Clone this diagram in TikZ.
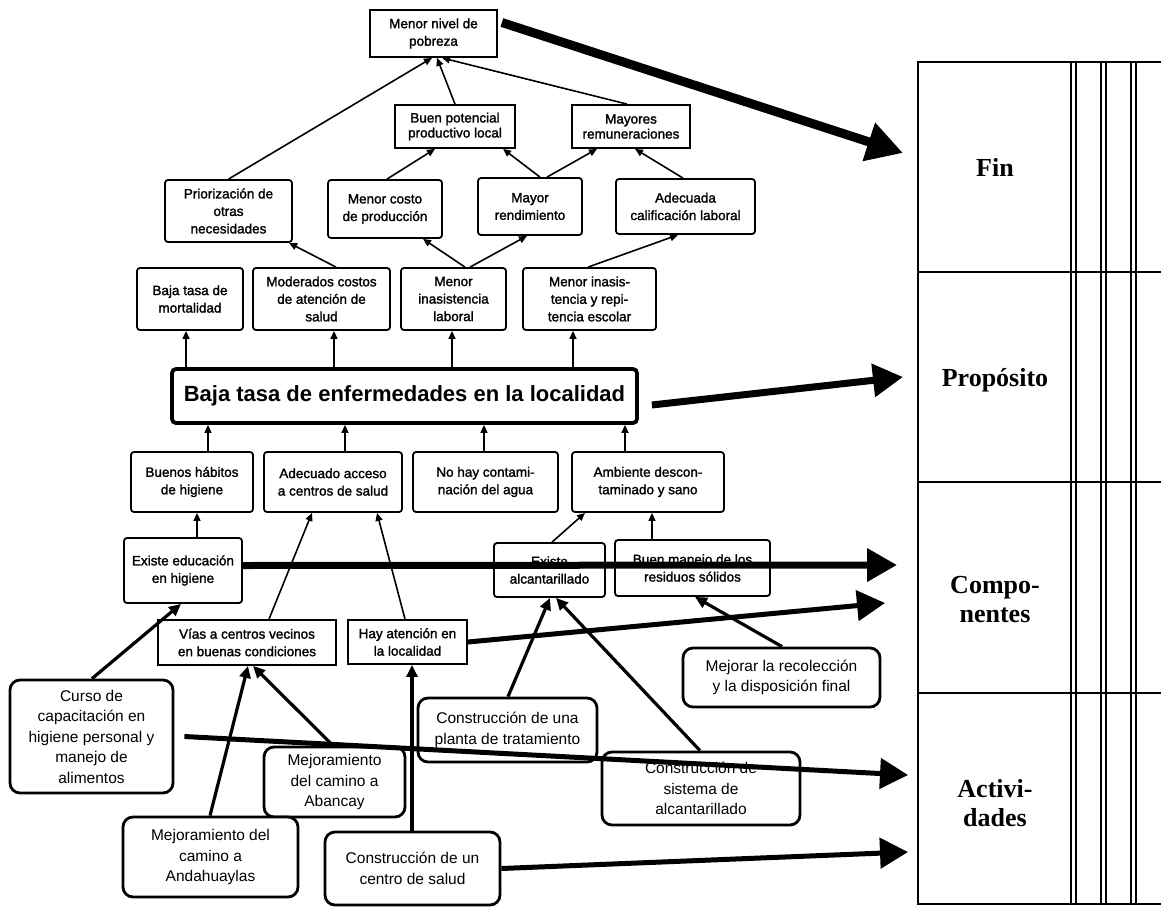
\documentclass[tikz,border=0pt]{standalone}
\usepackage{fontspec}
\setmainfont{Liberation Sans}
\newfontfamily\dgheavy[FakeBold=1.6]{Liberation Sans}
\newfontfamily\dgserif{Liberation Serif}
\usetikzlibrary{arrows.meta,calc}

% box given by its corners: style, name, x1, y1, x2, y2, text
\newcommand\putbox[7]{%
  \pgfmathsetmacro\pbw{#5-#3}\pgfmathsetmacro\pbh{#6-#4}%
  \pgfmathsetmacro\pbx{(#3+#5)/2}\pgfmathsetmacro\pby{(#4+#6)/2}%
  \node[#1, minimum width=\pbw pt, minimum height=\pbh pt] (#2) at (\pbx,\pby) {#7};}

\tikzset{
  ubox/.style={draw, rectangle, line width=1.8pt, fill=white, rounded corners=3pt,
    inner sep=0pt, align=center, font=\dgheavy\fontsize{13.5}{17.5}\selectfont},
  sqbox/.style={ubox, sharp corners},
  tightbox/.style={sqbox, font=\dgheavy\fontsize{13.5}{15}\selectfont},
  bigbox/.style={ubox, line width=3.8pt, rounded corners=4pt,
    font=\bfseries\fontsize{22}{26}\selectfont},
  abox/.style={draw, rectangle, line width=2.8pt, fill=white, rounded corners=10pt,
    inner sep=0pt, align=center, font=\fontsize{15.5}{20.5}\selectfont},
  tlabel/.style={align=center, inner sep=0pt, font=\dgserif\bfseries\fontsize{26}{29}\selectfont},
  sarrow/.style={line width=1.6pt, -{Triangle[length=8pt,width=7pt]}},
  marrow/.style={line width=3.2pt, -{Triangle[length=12pt,width=11pt]}},
  barrow/.style={line width=5pt, -{Triangle[length=28pt,width=30pt]}},
  bbarrow/.style={line width=7pt, -{Triangle[length=30pt,width=32pt]}},
  finarrow/.style={line width=9pt, -{Triangle[length=36pt,width=38pt]}},
  tabline/.style={line width=1.7pt},
}

\begin{document}
\begin{tikzpicture}[x=1pt,y=-1pt]
\useasboundingbox (0,0) rectangle (1161,907);
\fill[white] (0,0) rectangle (1161,907);

% ---- effect tree ----
\putbox{sqbox}{nivel}{370}{10}{497}{57}{Menor nivel de\\pobreza}
\putbox{tightbox}{buenpot}{395}{105}{515}{148}{Buen potencial\\productivo local}
\putbox{tightbox}{mayores}{572}{105}{690}{148}{Mayores\\remuneraciones}

\putbox{ubox}{priori}{165}{180}{292}{242}{Priorización de\\otras\\necesidades}
\putbox{ubox}{costo}{328}{180}{442}{238}{Menor costo\\de producción}
\putbox{ubox}{rend}{478}{178}{582}{235}{Mayor\\rendimiento}
\putbox{ubox}{adec}{616}{179}{755}{234}{Adecuada\\calificación laboral}

\putbox{ubox}{mort}{137}{268}{243}{330}{Baja tasa de\\mortalidad}
\putbox{ubox}{moder}{253}{268}{390}{330}{Moderados costos\\de atención de\\salud}
\putbox{ubox}{lab}{401}{268}{506}{330}{Menor\\inasistencia\\laboral}
\putbox{ubox}{esc}{523}{268}{656}{330}{Menor inasis-\\tencia y repi-\\tencia escolar}

\putbox{bigbox}{big}{172}{369}{637}{423}{Baja tasa de enfermedades en la localidad}

% ---- means tree ----
\putbox{ubox}{buenos}{131}{452}{253}{512}{Buenos hábitos\\de higiene}
\putbox{ubox}{acceso}{264}{452}{402}{512}{Adecuado acceso\\a centros de salud}
\putbox{ubox}{agua}{413}{452}{558}{512}{No hay contami-\\nación del agua}
\putbox{ubox}{amb}{572}{452}{724}{512}{Ambiente descon-\\taminado y sano}

\putbox{ubox}{educ}{124}{538}{242}{603}{Existe educación\\en higiene}
\putbox{sqbox}{vias}{158}{620}{336}{665}{Vías a centros vecinos\\en buenas condiciones}
\putbox{sqbox}{hay}{348}{620}{467}{664}{Hay atención en\\la localidad}
\putbox{ubox}{alc}{494}{543}{605}{597}{Existe\\alcantarillado}
\putbox{ubox}{manejo}{615}{540}{770}{596}{Buen manejo de los\\residuos sólidos}

% ---- activities ----
\putbox{abox}{curso}{10}{680}{173}{793}{Curso de\\capacitación en\\higiene personal y\\manejo de\\alimentos}
\putbox{abox}{abancay}{264}{747}{405}{817}{Mejoramiento\\del camino a\\Abancay}
\putbox{abox}{andah}{123}{817}{298}{897}{Mejoramiento del\\camino a\\Andahuaylas}
\putbox{abox}{centro}{325}{832}{500}{905}{Construcción de un\\centro de salud}
\putbox{abox}{planta}{418}{698}{597}{762}{Construcción de una\\planta de tratamiento}
\putbox{abox}{sistema}{602}{752}{800}{825}{Construcción de\\sistema de\\alcantarillado}
\putbox{abox}{mejorar}{683}{648}{880}{707}{Mejorar la recolección\\y la disposición final}

% ---- thin links between results ----
\draw[sarrow] (priori.north) -- (nivel.south -| 432,0);
\draw[sarrow] (buenpot.north -| 455,0) -- (nivel.south -| 437,0);
\draw[sarrow] (mayores.north -| 627,0) -- (nivel.south -| 442,0);
\draw[sarrow] (costo.north -| 387,0) -- (buenpot.south -| 435,0);
\draw[sarrow] (rend.north -| 540,0) -- (buenpot.south -| 503,0);
\draw[sarrow] (rend.north -| 547,0) -- (mayores.south -| 597,0);
\draw[sarrow] (adec.north -| 683,0) -- (mayores.south -| 635,0);
\draw[sarrow] (moder.north -| 336,0) -- (priori.south -| 289,0);
\draw[sarrow] (lab.north -| 465,0) -- (costo.south -| 423,0);
\draw[sarrow] (lab.north -| 470,0) -- (rend.south -| 527,0);
\draw[sarrow] (esc.north -| 588,0) -- (adec.south -| 678,0);

\draw[sarrow] (big.north -| 186,0) -- (mort.south -| 186,0);
\draw[sarrow] (big.north -| 334,0) -- (moder.south -| 334,0);
\draw[sarrow] (big.north -| 452,0) -- (lab.south -| 452,0);
\draw[sarrow] (big.north -| 573,0) -- (esc.south -| 573,0);

\draw[sarrow] (buenos.north -| 208,0) -- (big.south -| 208,0);
\draw[sarrow] (acceso.north -| 345,0) -- (big.south -| 345,0);
\draw[sarrow] (agua.north -| 484,0) -- (big.south -| 484,0);
\draw[sarrow] (amb.north -| 625,0) -- (big.south -| 625,0);

\draw[sarrow] (educ.north -| 197,0) -- (buenos.south -| 197,0);
\draw[sarrow] (vias.north -| 269,0) -- (acceso.south -| 312,0);
\draw[sarrow] (hay.north -| 405,0) -- (acceso.south -| 377,0);
\draw[sarrow] (alc.north -| 552,0) -- (amb.south -| 585,0);
\draw[sarrow] (manejo.north -| 652,0) -- (amb.south -| 652,0);

% ---- activities to components ----
\draw[marrow] (curso.north -| 92,0) -- (educ.south -| 181,0);
\draw[marrow] (andah.north -| 210,0) -- (vias.south -| 248,0);
\draw[marrow] (abancay.north -| 333,0) -- (vias.south -| 253,0);
\draw[marrow] (centro.north -| 412,0) -- (hay.south -| 412,0);
\draw[marrow] (planta.north -| 508,0) -- (alc.south -| 550,0);
\draw[marrow] (sistema.north -| 700,0) -- (alc.south -| 556,0);
\draw[marrow] (mejorar.north -| 782,0) -- (manejo.south -| 695,0);

% ---- logical framework table ----
\draw[tabline] (1161,62) -- (918,62) -- (918,904) -- (1161,904);
\foreach \ty in {272,482,693} \draw[tabline] (918,\ty) -- (1161,\ty);
\foreach \tx in {1071,1101,1131} {
  \draw[line width=2.4pt] (\tx,62) -- (\tx,904);
  \draw[line width=1.5pt] (\tx+5,62) -- (\tx+5,904);
}
\node[tlabel] (fin) at (995,167) {Fin};
\node[tlabel] (prop) at (995,380) {Propósito};
\node[tlabel] (comp) at (995,600) {Compo-\\nentes};
\node[tlabel] (act) at (995,803) {Activi-\\dades};

% ---- arrows into the table ----
\coordinate (finTip) at (903,153);
\coordinate (propTip) at (903,377);
\coordinate (compTipA) at (897,565);
\coordinate (compTipB) at (885,603);
\coordinate (actTipA) at (908,775);
\coordinate (actTipB) at (908,852);

\draw[finarrow] ([xshift=4pt,yshift=11pt]nivel.east) -- (finTip);
\draw[bbarrow] ([xshift=13pt,yshift=-9pt]big.east) -- (propTip);
\draw[bbarrow] ([yshift=5pt]educ.east) -- (compTipA);
\draw[barrow] (hay.east) -- (compTipB);
\draw[barrow] ([xshift=10pt]curso.east) -- (actTipA);
\draw[barrow] (centro.east) -- (actTipB);
\end{tikzpicture}
\end{document}
